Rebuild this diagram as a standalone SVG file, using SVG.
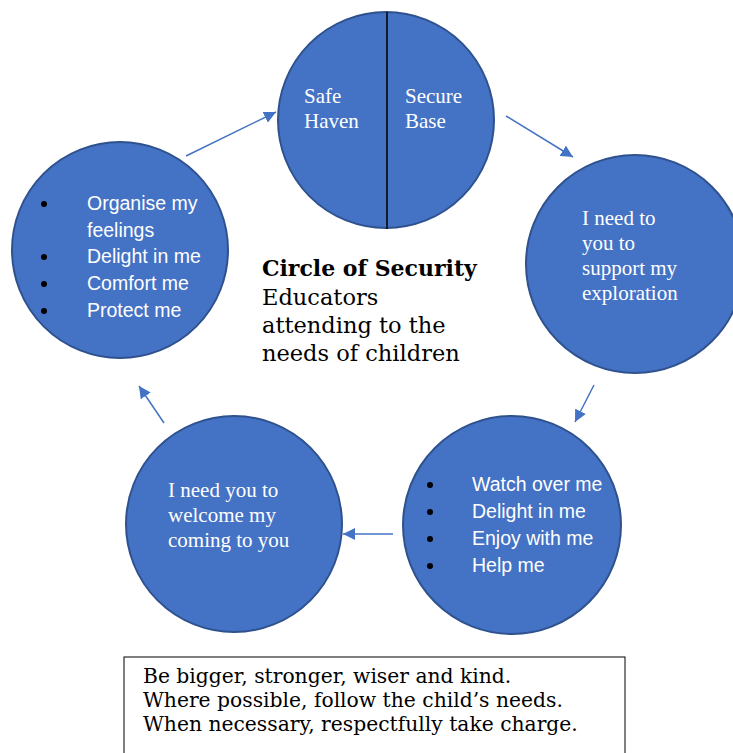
<svg xmlns="http://www.w3.org/2000/svg" width="733" height="753" viewBox="0 0 733 753">
  <style>
    .node { fill: #4472C4; stroke: #2F528F; stroke-width: 2; }
    .serif { font-family: "Liberation Serif", "Times New Roman", serif; font-size: 21px; fill: #ffffff; }
    .sans { font-family: "Liberation Sans", Arial, sans-serif; font-size: 19.5px; fill: #ffffff; }
    .bullet { fill: #000000; }
    .title { font-family: "DejaVu Serif", serif; fill: #000000; }
    .conn { stroke: #4472C4; stroke-width: 1.5; fill: none; marker-end: url(#head); }
  </style>
  <defs>
    <marker id="head" viewBox="0 0 12 12" refX="12" refY="6" markerWidth="12" markerHeight="12" markerUnits="userSpaceOnUse" orient="auto">
      <path d="M0,0 L12,6 L0,12 z" fill="#4472C4"/>
    </marker>
  </defs>

  <rect width="733" height="753" fill="#ffffff"/>

  <!-- connectors -->
  <g id="connectors">
    <line class="conn" x1="186" y1="156" x2="276" y2="112"/>
    <line class="conn" x1="506" y1="116" x2="573" y2="157"/>
    <line class="conn" x1="594" y1="385" x2="575" y2="422"/>
    <line class="conn" x1="393" y1="534" x2="343" y2="534"/>
    <line class="conn" x1="164" y1="423" x2="139" y2="386"/>
  </g>

  <!-- top: Safe Haven / Secure Base -->
  <g id="node-top">
    <circle class="node" cx="386" cy="120" r="108"/>
    <line x1="387" y1="12" x2="387" y2="229" stroke="#000000" stroke-width="1.5"/>
    <text class="serif" x="304" y="103">Safe</text>
    <text class="serif" x="304" y="128">Haven</text>
    <text class="serif" x="405" y="103">Secure</text>
    <text class="serif" x="405" y="128">Base</text>
  </g>

  <!-- right: support exploration -->
  <g id="node-right">
    <circle class="node" cx="635" cy="264" r="109"/>
    <text class="serif" x="582" y="225">I need to</text>
    <text class="serif" x="582" y="250">you to</text>
    <text class="serif" x="582" y="275">support my</text>
    <text class="serif" x="582" y="300">exploration</text>
  </g>

  <!-- bottom right: watch over me -->
  <g id="node-bottom-right">
    <circle class="node" cx="512" cy="525" r="109"/>
    <circle class="bullet" cx="430" cy="485" r="3"/>
    <circle class="bullet" cx="430" cy="512" r="3"/>
    <circle class="bullet" cx="430" cy="539" r="3"/>
    <circle class="bullet" cx="430" cy="566" r="3"/>
    <text class="sans" x="472" y="491">Watch over me</text>
    <text class="sans" x="472" y="518">Delight in me</text>
    <text class="sans" x="472" y="545">Enjoy with me</text>
    <text class="sans" x="472" y="572">Help me</text>
  </g>

  <!-- bottom left: welcome my coming -->
  <g id="node-bottom-left">
    <circle class="node" cx="234" cy="524" r="108"/>
    <text class="serif" x="168" y="497">I need you to</text>
    <text class="serif" x="168" y="522">welcome my</text>
    <text class="serif" x="168" y="547">coming to you</text>
  </g>

  <!-- left: organise my feelings -->
  <g id="node-left">
    <circle class="node" cx="120" cy="250" r="108"/>
    <circle class="bullet" cx="44" cy="204" r="3"/>
    <circle class="bullet" cx="44" cy="257" r="3"/>
    <circle class="bullet" cx="44" cy="284" r="3"/>
    <circle class="bullet" cx="44" cy="311" r="3"/>
    <text class="sans" x="87" y="210">Organise my</text>
    <text class="sans" x="87" y="237">feelings</text>
    <text class="sans" x="87" y="263">Delight in me</text>
    <text class="sans" x="87" y="290">Comfort me</text>
    <text class="sans" x="87" y="317">Protect me</text>
  </g>

  <!-- centre title -->
  <g id="title">
    <text class="title" x="262" y="276" font-size="22" font-weight="bold">Circle of Security</text>
    <text class="title" x="262" y="305" font-size="22.5">Educators</text>
    <text class="title" x="262" y="333" font-size="22.5">attending to the</text>
    <text class="title" x="262" y="361" font-size="22.5">needs of children</text>
  </g>

  <!-- guidance box -->
  <g id="guidance">
    <rect x="124" y="657" width="501" height="110" fill="#ffffff" stroke="#000000" stroke-width="1"/>
    <text class="title" x="143" y="683" font-size="20.3">Be bigger, stronger, wiser and kind.</text>
    <text class="title" x="143" y="707" font-size="20.3">Where possible, follow the child’s needs.</text>
    <text class="title" x="143" y="731" font-size="20.3">When necessary, respectfully take charge.</text>
  </g>
</svg>
